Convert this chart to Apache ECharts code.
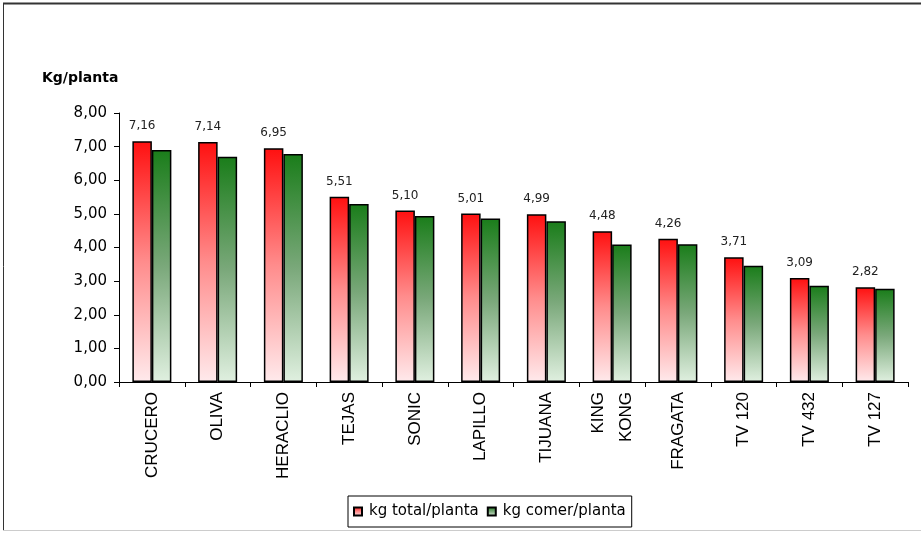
<!DOCTYPE html>
<html>
<head>
<meta charset="utf-8">
<script src="https://cdn.jsdelivr.net/npm/echarts@6/dist/echarts.min.js"></script>
<style>html,body{margin:0;padding:0;background:#fff}#c{width:921px;height:533px}</style>
</head>
<body>
<div id="c"></div>
<script>
const categories = ['CRUCERO','OLIVA','HERACLIO','TEJAS','SONIC','LAPILLO','TIJUANA','KING\nKONG','FRAGATA','TV 120','TV 432','TV 127'];
const totalValues = [7.16, 7.14, 6.95, 5.51, 5.10, 5.01, 4.99, 4.48, 4.26, 3.71, 3.09, 2.82];
const comerValues = [6.90, 6.70, 6.78, 5.29, 4.94, 4.86, 4.78, 4.09, 4.10, 3.46, 2.86, 2.77];
const seriesNames = ['kg total/planta', 'kg comer/planta'];
const yTicks = [0, 1, 2, 3, 4, 5, 6, 7, 8];

const fmt = v => v.toFixed(2).replace('.', ',');
const dv = 'DejaVu Sans, sans-serif';
const lib = 'Liberation Sans, Arial, sans-serif';

const redGrad = new echarts.graphic.LinearGradient(0, 0, 0, 1, [
  {offset: 0, color: '#ff1010'}, {offset: 0.5, color: '#ff8c8c'}, {offset: 1, color: '#ffeaec'}
]);
const greenGrad = new echarts.graphic.LinearGradient(0, 0, 0, 1, [
  {offset: 0, color: '#1a7d1a'}, {offset: 0.5, color: '#7aa87a'}, {offset: 1, color: '#e0f0e0'}
]);

const chart = echarts.init(document.getElementById('c'));
chart.setOption({
  animation: false,
  textStyle: {fontFamily: dv},
  graphic: [
    {type: 'line', shape: {x1: 3, y1: 3.5, x2: 921, y2: 3.5}, style: {stroke: '#333', lineWidth: 2}},
    {type: 'line', shape: {x1: 3.5, y1: 3, x2: 3.5, y2: 530}, style: {stroke: '#333', lineWidth: 1}},
    {type: 'line', shape: {x1: 3, y1: 530.5, x2: 921, y2: 530.5}, style: {stroke: '#ccc', lineWidth: 1}},
    {type: 'text', left: 42, top: 71, style: {text: 'Kg/planta', font: 'bold 14px ' + dv, fill: '#000'}}
  ],
  grid: {left: 119, right: 13, top: 113, bottom: 151},
  legend: {
    left: 348, top: 496,
    orient: 'horizontal',
    borderColor: '#000', borderWidth: 1, padding: [8, 6, 8, 5],
    itemWidth: 8, itemHeight: 8, itemGap: 8,
    icon: 'rect',
    textStyle: {fontSize: 15, color: '#000', fontFamily: dv, padding: [0, 0, 0, 2]},
    data: seriesNames
  },
  xAxis: {
    type: 'category',
    data: categories,
    axisLine: {lineStyle: {color: '#000', width: 1}},
    axisTick: {show: true, length: 5, lineStyle: {color: '#000'}},
    axisLabel: {rotate: 90, fontSize: 17, fontFamily: lib, color: '#000', margin: 10, interval: 0, lineHeight: 28, align: 'right', verticalAlign: 'middle'}
  },
  yAxis: {
    type: 'value', min: yTicks[0], max: yTicks[yTicks.length - 1], interval: 1,
    axisLine: {show: true, lineStyle: {color: '#000'}},
    axisTick: {show: true, length: 5, lineStyle: {color: '#000'}},
    splitLine: {show: false},
    axisLabel: {fontSize: 15, fontFamily: dv, color: '#000', margin: 12, formatter: fmt}
  },
  series: [
    {
      name: seriesNames[0], type: 'bar', data: totalValues,
      barWidth: 19.5, barGap: '0%',
      itemStyle: {color: redGrad, borderColor: '#000', borderWidth: 1.5},
      label: {show: true, position: 'top', distance: 9, fontSize: 12, fontFamily: dv, color: '#222', formatter: p => fmt(p.value)}
    },
    {
      name: seriesNames[1], type: 'bar', data: comerValues,
      barWidth: 19.5, barGap: '0%',
      itemStyle: {color: greenGrad, borderColor: '#000', borderWidth: 1.5}
    }
  ]
});
</script>
</body>
</html>
